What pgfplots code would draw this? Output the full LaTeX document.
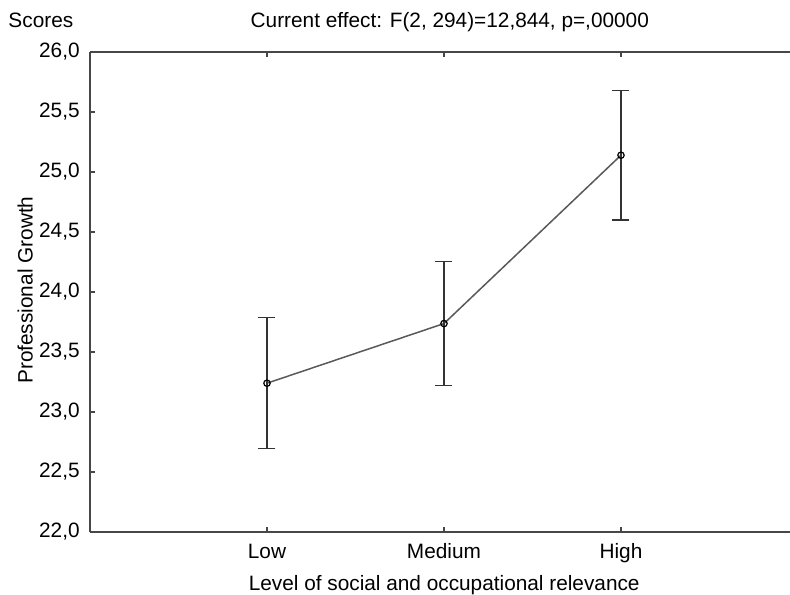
\documentclass[border=0pt]{standalone}
\usepackage{pgfplots}
\pgfplotsset{compat=1.18}
\usepackage{fontspec}
\setmainfont{Liberation Sans}

\begin{document}
\fontsize{10.4}{12.5}\selectfont
\begin{tikzpicture}
% 1px = 0.5pt; image 790x594 px, axis lower-left at (90,532) px
\useasboundingbox (-45pt,-31pt) rectangle (350pt,266pt);
\begin{axis}[
  scale only axis,
  width=350pt, height=240pt,
  xmin=0, xmax=3.955,
  ymin=22, ymax=26,
  axis x line=box, axis y line=left,
  axis line style={-, draw=black!72, line width=1pt},
  xtick={1,2,3},
  xticklabels={Low,Medium,High},
  ytick={22,22.5,...,26},
  tick align=inside,
  major tick length=2.5pt,
  tick style={draw=black!72, line width=0.6pt},
  xticklabel style={anchor=base, yshift=-13.25pt},
  yticklabel style={xshift=-1.5pt,
    /pgf/number format/.cd, fixed, fixed zerofill, precision=1, use comma, assume math mode=true},
  clip=false,
]
\addplot[
  color=black!65, line width=0.75pt,
  mark=o, mark size=1.6pt,
  mark options={draw=black, line width=0.6pt, fill=white},
  error bars/.cd, y dir=both, y explicit,
  error bar style={draw=black!80, line width=0.65pt},
  error mark options={rotate=90, mark size=4.25pt, draw=black!80, line width=0.65pt},
] coordinates {
  (1,23.24) +- (0,0.545)
  (2,23.737) +- (0,0.517)
  (3,25.14) +- (0,0.54)
};
\node[anchor=base] at (axis description cs:0.514,1.051) {Current effect: F(2, 294)=12,844, p=,00000};
\node[anchor=base west, inner sep=0pt] at (axis description cs:-0.117,1.051) {Scores};
\node[anchor=base, rotate=90, inner sep=0pt] at (axis description cs:-0.0821,0.504) {Professional Growth};
\node[anchor=base, inner sep=0pt] at (axis description cs:0.506,-0.122) {Level of social and occupational relevance};
\end{axis}
\end{tikzpicture}
\end{document}
